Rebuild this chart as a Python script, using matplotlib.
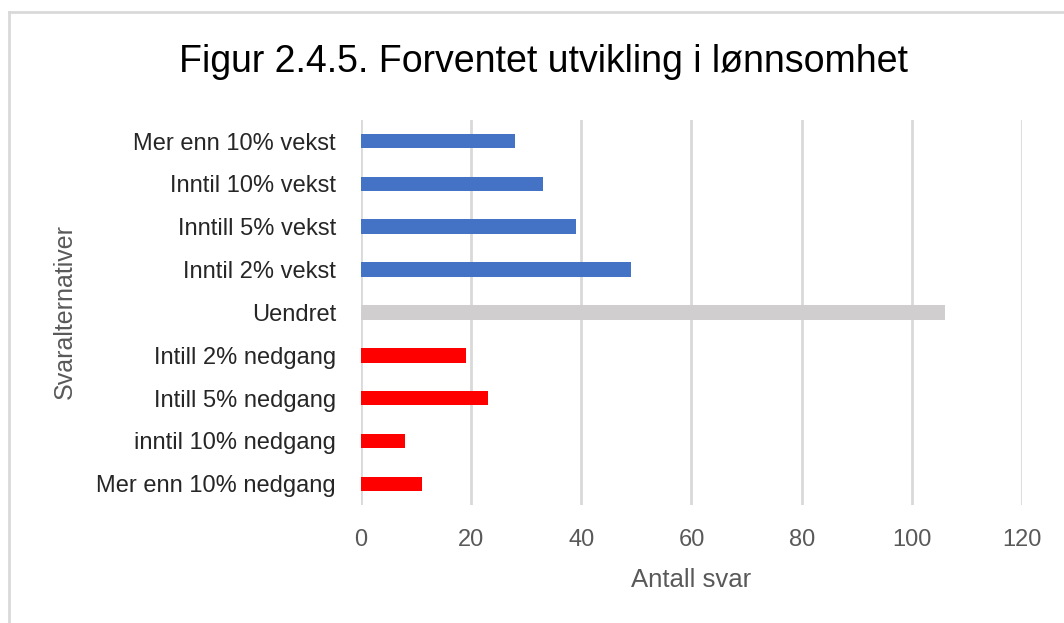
import numpy as np
import matplotlib.pyplot as plt
from matplotlib.lines import Line2D

plt.rcParams['font.family'] = ['Liberation Sans Narrow', 'Liberation Sans', 'DejaVu Sans']

# --- data (bottom to top)
categories = ["Mer enn 10% nedgang", "inntil 10% nedgang", "Intill 5% nedgang",
              "Intill 2% nedgang", "Uendret", "Inntil 2% vekst",
              "Inntill 5% vekst", "Inntil 10% vekst", "Mer enn 10% vekst"]
antall = [11, 8, 23, 19, 106, 49, 39, 33, 28]
farger = ['#ff0000'] * 4 + ['#d0cece'] + ['#4472c4'] * 4

ticks = [0, 20, 40, 60, 80, 100, 120]

fig = plt.figure(figsize=(10.64, 6.23), dpi=100)
ax = fig.add_axes([0.3393, 0.189, 0.6212, 0.619])

y = np.arange(len(categories))
ax.barh(y, antall, height=0.34, color=farger, zorder=3)

ax.set_xlim(0, 120)
ax.set_ylim(-0.5, len(categories) - 0.5)
ax.set_xticks(ticks)
ax.set_yticks(y)
ax.set_yticklabels(categories, fontsize=17, color='#262626')
ax.tick_params(axis='x', labelsize=17, labelcolor='#595959', length=0, pad=17)
ax.tick_params(axis='y', length=0, pad=18)
ax.grid(axis='x', color='#d9d9d9', linewidth=2, zorder=0)
for s in ax.spines.values():
    s.set_visible(False)

ax.set_xlabel("Antall svar", fontsize=18.5, color='#595959', labelpad=12)
fig.text(0.061, 0.5, "Svaralternativer", rotation=90, fontsize=18,
         color='#595959', ha='center', va='center')
fig.text(0.511, 0.9, "Figur 2.4.5. Forventet utvikling i lønnsomhet",
         fontsize=27, color='#000000', ha='center', va='center')

# outer chart border
fig.add_artist(Line2D([0.0085, 0.0085], [0, 0.981], transform=fig.transFigure,
                      color='#d9d9d9', linewidth=2))
fig.add_artist(Line2D([0.0085, 1], [0.981, 0.981], transform=fig.transFigure,
                      color='#d9d9d9', linewidth=2))

fig.savefig("out.png", dpi=100)
